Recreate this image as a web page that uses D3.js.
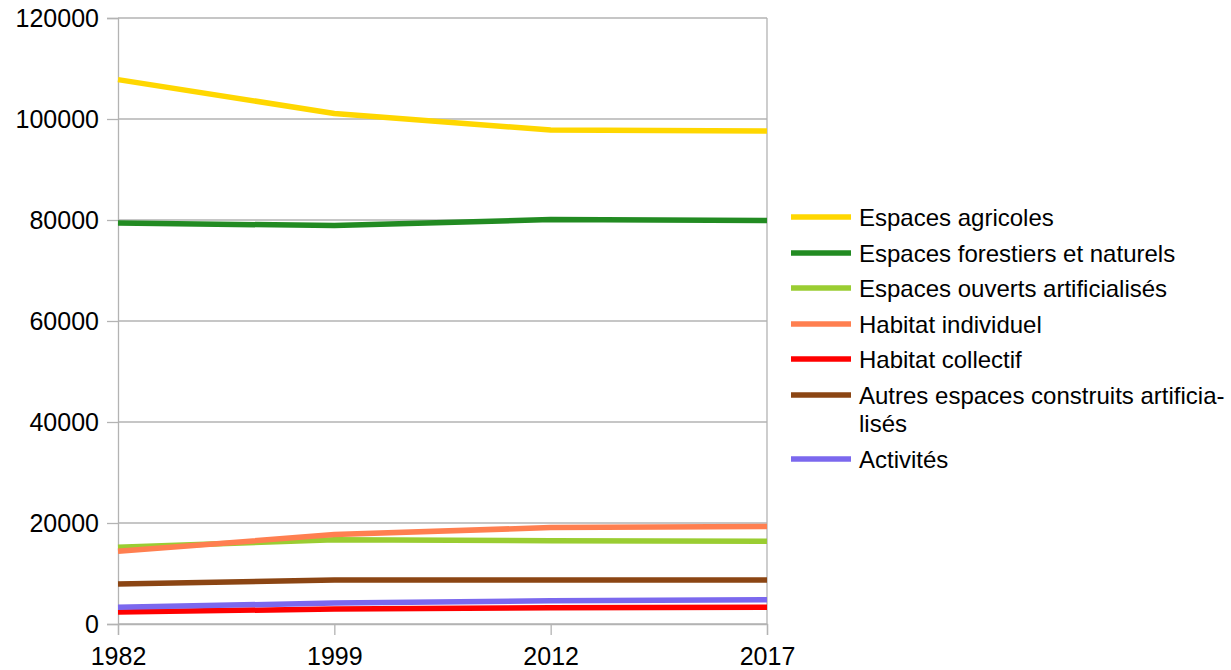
<!DOCTYPE html>
<html><head><meta charset="utf-8">
<script src="https://cdn.jsdelivr.net/npm/d3@7"></script>
<style>
body{margin:0;background:#fff;}
text{font-family:"Liberation Sans",Arial,sans-serif;fill:#000;}
</style></head>
<body>
<svg id="chart" width="1231" height="670"></svg>
<script>
const years = ["1982","1999","2012","2017"];
const seriesNames = ["Espaces agricoles","Espaces forestiers et naturels","Espaces ouverts artificialisés","Habitat individuel","Habitat collectif","Autres espaces construits artificia-|lisés","Activités"];
const seriesColors = ["#ffd700","#228b22","#9acd32","#ff7f50","#ff0000","#8b4513","#7b68ee"];
const agricoles = [107800,101100,97800,97600];
const forestiers = [79400,78900,80100,79900];
const ouverts = [15200,16700,16500,16400];
const individuel = [14400,17700,19100,19300];
const collectif = [2400,2950,3200,3300];
const autres = [7900,8700,8700,8700];
const activites = [3300,4150,4600,4800];
const yTicks = [0,20000,40000,60000,80000,100000,120000];

const seriesValues = [agricoles,forestiers,ouverts,individuel,collectif,autres,activites];
const svg = d3.select("#chart");
const L=118,R=767,T=18,B=624;
const x = d3.scalePoint().domain(years).range([L,R]);
const y = d3.scaleLinear().domain([0,120000]).range([B,T]);
const grid="#b3b3b3";

// horizontal grid
svg.append("g").selectAll("line").data(yTicks).join("line")
  .attr("x1",L).attr("x2",R).attr("y1",d=>y(d)).attr("y2",d=>y(d))
  .attr("stroke",grid).attr("stroke-width",1.3);
// right border
svg.append("line").attr("x1",R).attr("x2",R).attr("y1",T).attr("y2",B).attr("stroke",grid).attr("stroke-width",1.3);

// y axis
const ya = svg.append("g").attr("transform",`translate(${L},0)`)
  .call(d3.axisLeft(y).tickValues(yTicks).tickFormat(d3.format("d")).tickSize(11).tickPadding(8));
ya.select(".domain").attr("stroke",grid).attr("stroke-width",1.3);
ya.selectAll(".tick line").attr("stroke",grid).attr("stroke-width",1.3);
ya.selectAll("text").style("font-size","25px").attr("font-family","Liberation Sans").attr("fill","#000");

// x axis
const xa = svg.append("g").attr("transform",`translate(0,${B})`)
  .call(d3.axisBottom(x).tickSize(11).tickPadding(12));
xa.select(".domain").attr("stroke",grid).attr("stroke-width",1.3);
xa.selectAll(".tick line").attr("stroke",grid).attr("stroke-width",1.3);
xa.selectAll("text").style("font-size","25px").attr("font-family","Liberation Sans").attr("fill","#000");

// lines
const line = d3.line().x((d,i)=>x(years[i])).y(d=>y(d));
svg.append("g").selectAll("path").data(seriesValues).join("path")
  .attr("d",line).attr("fill","none")
  .attr("stroke",(d,i)=>seriesColors[i]).attr("stroke-width",5.5)
  .attr("stroke-linejoin","round");

// legend
const rowY = [217,253,288,324,359,395,459];
const lg = svg.append("g");
seriesNames.forEach((name,i)=>{
  lg.append("line").attr("x1",791).attr("x2",851).attr("y1",rowY[i]).attr("y2",rowY[i])
    .attr("stroke",seriesColors[i]).attr("stroke-width",5.5);
  const parts = name.split("|");
  parts.forEach((p,j)=>{
    lg.append("text").attr("x",859).attr("y",rowY[i]+j*28)
      .attr("dominant-baseline","central").style("font-size","24px").text(p);
  });
});
</script>
</body></html>
